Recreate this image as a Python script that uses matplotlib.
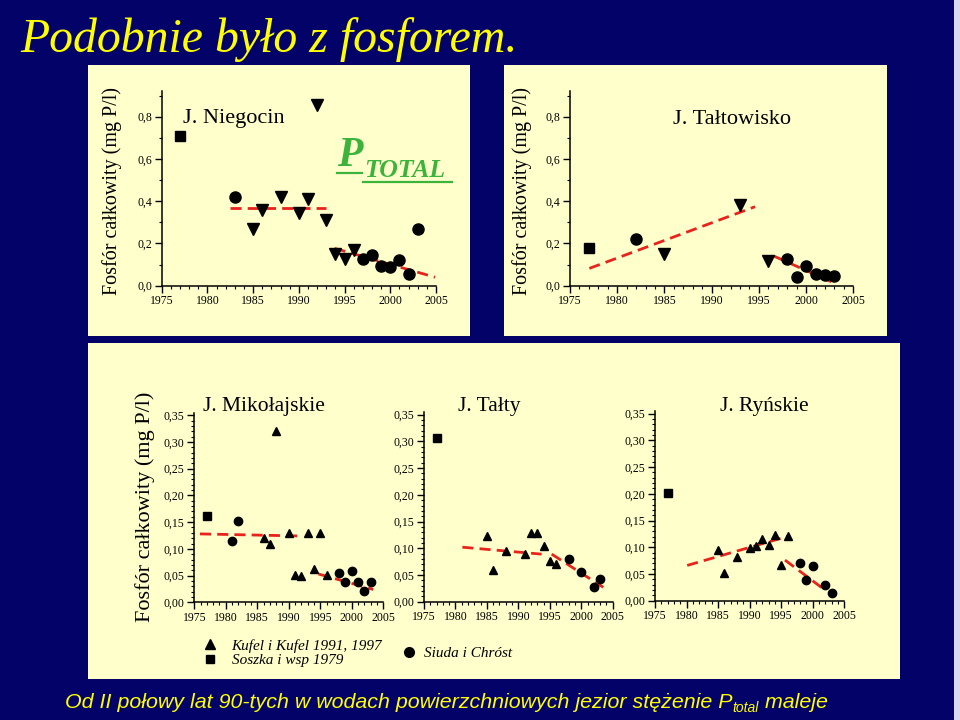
import matplotlib
matplotlib.use('Agg')
import matplotlib.pyplot as plt
from matplotlib.patches import Rectangle
from matplotlib.lines import Line2D
from matplotlib.ticker import MultipleLocator, FuncFormatter

# ---------------- data ----------------
years_ticks = [1975, 1980, 1985, 1990, 1995, 2000, 2005]

nie_sq_x = [1977]
nie_sq_y = [0.71]
nie_tri_x = [1985, 1986, 1988, 1990, 1991, 1992, 1993, 1994, 1995, 1996]
nie_tri_y = [0.27, 0.36, 0.42, 0.345, 0.41, 0.855, 0.31, 0.15, 0.125, 0.17]
nie_circ_x = [1983, 1997, 1998, 1999, 2000, 2001, 2002, 2003]
nie_circ_y = [0.42, 0.126, 0.145, 0.093, 0.087, 0.12, 0.055, 0.27]
nie_trend1_x = [1982.5, 1993.0]
nie_trend1_y = [0.37, 0.37]
nie_trend2_x = [1993.9, 2004.9]
nie_trend2_y = [0.177, 0.04]

tlw_sq_x = [1977]
tlw_sq_y = [0.18]
tlw_tri_x = [1985, 1993, 1996]
tlw_tri_y = [0.148, 0.38, 0.117]
tlw_circ_x = [1982, 1998, 1999, 2000, 2001, 2002, 2003]
tlw_circ_y = [0.22, 0.126, 0.043, 0.093, 0.055, 0.05, 0.046]
tlw_trend1_x = [1977.05, 1994.6]
tlw_trend1_y = [0.082, 0.374]
tlw_trend2_x = [1996.6, 2002.9]
tlw_trend2_y = [0.14, 0.014]

mik_sq_x = [1977]
mik_sq_y = [0.162]
mik_tri_x = [1986, 1987, 1988, 1990, 1991, 1992, 1993, 1994, 1995, 1996]
mik_tri_y = [0.12, 0.11, 0.321, 0.13, 0.052, 0.049, 0.13, 0.062, 0.129, 0.052]
mik_circ_x = [1981, 1982, 1998, 1999, 2000, 2001, 2002, 2003]
mik_circ_y = [0.115, 0.152, 0.055, 0.038, 0.059, 0.038, 0.021, 0.038]
mik_trend1_x = [1975.9, 1992.3]
mik_trend1_y = [0.128, 0.124]
mik_trend2_x = [1994.7, 2003.4]
mik_trend2_y = [0.053, 0.024]

tal_sq_x = [1977]
tal_sq_y = [0.306]
tal_tri_x = [1985, 1986, 1988, 1991, 1992, 1993, 1994, 1995, 1996]
tal_tri_y = [0.123, 0.06, 0.095, 0.089, 0.129, 0.129, 0.105, 0.076, 0.071]
tal_circ_x = [1998, 2000, 2002, 2003]
tal_circ_y = [0.079, 0.056, 0.028, 0.043]
tal_trend1_x = [1981.1, 1993.7]
tal_trend1_y = [0.102, 0.089]
tal_trend2_x = [1995.3, 2003.5]
tal_trend2_y = [0.089, 0.027]

ryn_sq_x = [1977]
ryn_sq_y = [0.201]
ryn_tri_x = [1985, 1986, 1988, 1990, 1991, 1992, 1993, 1994, 1995, 1996]
ryn_tri_y = [0.095, 0.051, 0.081, 0.099, 0.103, 0.116, 0.105, 0.123, 0.066, 0.121]
ryn_circ_x = [1998, 1999, 2000, 2002, 2003]
ryn_circ_y = [0.071, 0.039, 0.065, 0.029, 0.015]
ryn_trend1_x = [1980.1, 1996.2]
ryn_trend1_y = [0.066, 0.121]
ryn_trend2_x = [1995.6, 2001.7]
ryn_trend2_y = [0.076, 0.022]

title_text = "Podobnie było z fosforem."
ylabel_text = "Fosfór całkowity (mg P/l)"
legend_labels = ["Kufel i Kufel 1991, 1997", "Soszka i wsp 1979", "Siuda i Chróst"]
bottom_text_a = "Od II połowy lat 90-tych w wodach powierzchniowych jezior stężenie P"
bottom_text_sub = "total"
bottom_text_b = " maleje"

# ---------------- style ----------------
NAVY = '#020268'
CREAM = '#ffffcc'
RED = '#e8231c'
GREEN = '#3cb43c'
SERIF = 'Liberation Serif'
W, H = 960, 720

fig = plt.figure(figsize=(9.6, 7.2), dpi=100)
fig.patch.set_facecolor(NAVY)


def fx(x):
    return x / W


def fy(y):
    return 1 - y / H


def rect(x0, y0, x1, y1, color):
    fig.add_artist(Rectangle((fx(x0), fy(y1)), (x1 - x0) / W, (y1 - y0) / H,
                             transform=fig.transFigure, facecolor=color,
                             edgecolor='none', zorder=0))


rect(88, 65, 470, 336, CREAM)
rect(504, 65, 887, 336, CREAM)
rect(88, 343, 900, 679, CREAM)
rect(954, 0, 960, 720, '#d8d8f0')

comma = FuncFormatter(lambda v, p: ('%.1f' % v).replace('.', ','))
comma2 = FuncFormatter(lambda v, p: ('%.2f' % v).replace('.', ','))


def make_ax(x0, x1, y0px, ppu, ytop, big):
    ax = fig.add_axes([fx(x0), (H - y0px) / H, (x1 - x0) / W, ytop * ppu / H])
    ax.set_facecolor('none')
    for s in ['top', 'right']:
        ax.spines[s].set_visible(False)
    for s in ['left', 'bottom']:
        ax.spines[s].set_linewidth(1.1)
    ax.set_xlim(1975, 2005)
    ax.set_ylim(0, ytop)
    ax.set_xticks(years_ticks)
    ax.xaxis.set_minor_locator(MultipleLocator(1))
    if big:
        ax.yaxis.set_major_locator(MultipleLocator(0.2))
        ax.yaxis.set_minor_locator(MultipleLocator(0.1))
        ax.yaxis.set_major_formatter(comma)
    else:
        ax.yaxis.set_major_locator(MultipleLocator(0.05))
        ax.yaxis.set_minor_locator(MultipleLocator(0.01))
        ax.yaxis.set_major_formatter(comma2)
    ax.tick_params(which='major', direction='out', length=5, width=1.0,
                   labelsize=8.5, pad=2)
    ax.tick_params(which='minor', direction='out', length=2.5, width=0.8)
    for lab in ax.get_xticklabels() + ax.get_yticklabels():
        lab.set_fontfamily(SERIF)
    return ax


def draw(ax, sqx, sqy, trx, tr_y, cx, cy, t1x, t1y, t2x, t2y, tri_marker, ms):
    ax.plot(t1x, t1y, color=RED, lw=2.0, dashes=(4, 2.2), zorder=2)
    ax.plot(t2x, t2y, color=RED, lw=2.0, dashes=(4, 2.2), zorder=2)
    ax.plot(sqx, sqy, ls='none', marker='s', color='black', ms=ms * 0.85, zorder=3)
    ax.plot(trx, tr_y, ls='none', marker=tri_marker, color='black', ms=ms, zorder=3)
    ax.plot(cx, cy, ls='none', marker='o', color='black', ms=ms, zorder=3)


ax1 = make_ax(161.7, 436, 285.7, 211.25, 0.92, True)
draw(ax1, nie_sq_x, nie_sq_y, nie_tri_x, nie_tri_y, nie_circ_x, nie_circ_y,
     nie_trend1_x, nie_trend1_y, nie_trend2_x, nie_trend2_y, 'v', 8)

ax2 = make_ax(570, 853.3, 285.7, 211.25, 0.92, True)
draw(ax2, tlw_sq_x, tlw_sq_y, tlw_tri_x, tlw_tri_y, tlw_circ_x, tlw_circ_y,
     tlw_trend1_x, tlw_trend1_y, tlw_trend2_x, tlw_trend2_y, 'v', 8)

ax3 = make_ax(194.3, 383.3, 602.3, 534.3, 0.355, False)
draw(ax3, mik_sq_x, mik_sq_y, mik_tri_x, mik_tri_y, mik_circ_x, mik_circ_y,
     mik_trend1_x, mik_trend1_y, mik_trend2_x, mik_trend2_y, '^', 6)

ax4 = make_ax(424, 612.7, 601.7, 534.3, 0.355, False)
draw(ax4, tal_sq_x, tal_sq_y, tal_tri_x, tal_tri_y, tal_circ_x, tal_circ_y,
     tal_trend1_x, tal_trend1_y, tal_trend2_x, tal_trend2_y, '^', 6)

ax5 = make_ax(655, 844.3, 600.7, 534.3, 0.355, False)
draw(ax5, ryn_sq_x, ryn_sq_y, ryn_tri_x, ryn_tri_y, ryn_circ_x, ryn_circ_y,
     ryn_trend1_x, ryn_trend1_y, ryn_trend2_x, ryn_trend2_y, '^', 6)

# ---------------- texts ----------------
fig.text(fx(20), fy(40), title_text, fontsize=34.4, family=SERIF, style='italic',
         color='#ffff00', va='center', ha='left')

fig.text(fx(112), fy(191), ylabel_text, rotation=90, fontsize=14.5, family=SERIF,
         ha='center', va='center')
fig.text(fx(522), fy(191), ylabel_text, rotation=90, fontsize=14.5, family=SERIF,
         ha='center', va='center')
fig.text(fx(145), fy(507), ylabel_text, rotation=90, fontsize=16, family=SERIF,
         ha='center', va='center')

fig.text(fx(183), fy(119), "J. Niegocin", fontsize=16, family=SERIF, va='center')
fig.text(fx(673), fy(119), "J. Tałtowisko", fontsize=16, family=SERIF, va='center')
fig.text(fx(203), fy(406), "J. Mikołajskie", fontsize=15.5, family=SERIF, va='center')
fig.text(fx(458), fy(406), "J. Tałty", fontsize=15.5, family=SERIF, va='center')
fig.text(fx(720), fy(407), "J. Ryńskie", fontsize=15.5, family=SERIF, va='center')

# P_TOTAL
fig.text(fx(337), fy(166), "P", fontsize=30, family=SERIF, style='italic',
         weight='bold', color=GREEN, va='baseline')
fig.text(fx(364), fy(177), "TOTAL", fontsize=18.5, family=SERIF, style='italic',
         weight='bold', color=GREEN, va='baseline')
fig.add_artist(Line2D([fx(337), fx(362)], [fy(173), fy(173)], transform=fig.transFigure,
                      color=GREEN, lw=1.6))
fig.add_artist(Line2D([fx(363), fx(452)], [fy(181.5), fy(181.5)], transform=fig.transFigure,
                      color=GREEN, lw=1.6))

# legend
h_tri = Line2D([], [], ls='none', marker='^', color='black', ms=7)
h_sq = Line2D([], [], ls='none', marker='s', color='black', ms=6)
h_ci = Line2D([], [], ls='none', marker='o', color='black', ms=7)
leg_font = {'family': SERIF, 'style': 'italic', 'size': 11}
leg1 = fig.legend([h_tri, h_sq], legend_labels[:2], loc='center left',
                  bbox_to_anchor=(fx(201), fy(653)), frameon=False, prop=leg_font,
                  handlelength=1.2, handletextpad=0.8, labelspacing=0.05,
                  borderpad=0, borderaxespad=0)
leg2 = fig.legend([h_ci], legend_labels[2:], loc='center left',
                  bbox_to_anchor=(fx(400), fy(653)), frameon=False, prop=leg_font,
                  handlelength=1.2, handletextpad=0.4, borderpad=0, borderaxespad=0)

# bottom statement
bfont = ['Liberation Sans Narrow', 'Liberation Sans']
bsize = 15.4
ta = fig.text(fx(65), fy(708), bottom_text_a, fontsize=bsize, family=bfont, style='italic',
              color='#ffff00', va='baseline')
r = fig.canvas.get_renderer()
bb = ta.get_window_extent(r)
x_sub = bb.x1 / W
ts = fig.text(x_sub, fy(712), bottom_text_sub, fontsize=bsize * 0.65, family=bfont,
              style='italic', color='#ffff00', va='baseline')
bb2 = ts.get_window_extent(r)
fig.text(bb2.x1 / W, fy(708), bottom_text_b, fontsize=bsize, family=bfont, style='italic',
         color='#ffff00', va='baseline')

fig.savefig('out.png', dpi=100, facecolor=NAVY)
